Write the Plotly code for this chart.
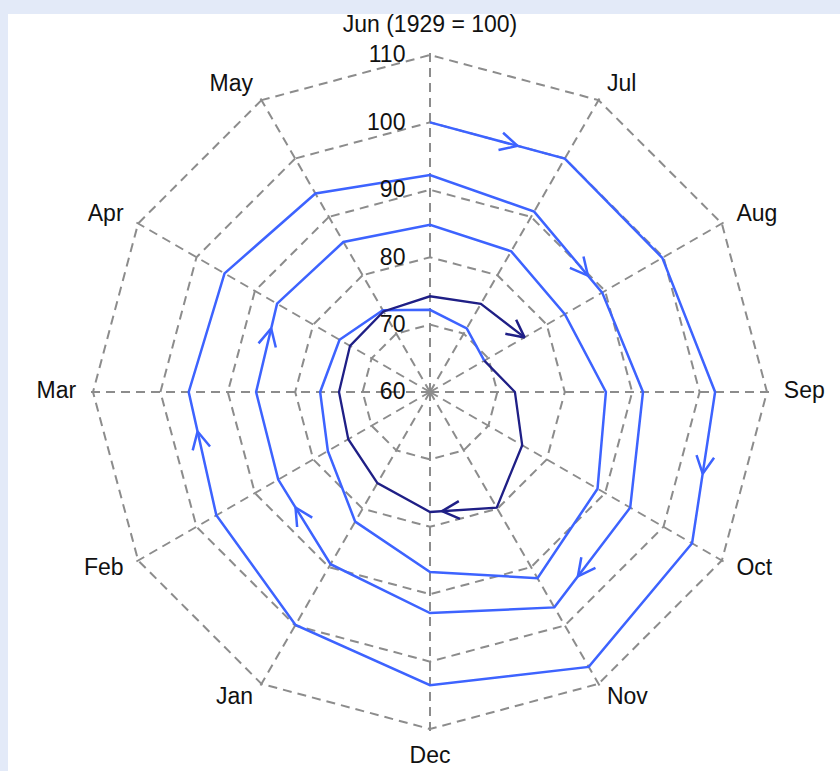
import math

import plotly.graph_objects as go


MONTHS = ["Jun (1929 = 100)", "Jul", "Aug", "Sep", "Oct", "Nov", "Dec", "Jan", "Feb", "Mar", "Apr", "May"]
RADIAL_TICKS = [60, 70, 80, 90, 100, 110]

# Jun 1929 .. Aug 1932, one value per month
early_values = [
    100.0, 100.0, 99.8, 102.3, 104.9, 107.1, 103.5, 99.9, 96.6, 95.8, 95.2, 94.0,
    92.2, 90.9, 89.5, 91.6, 94.3, 96.9, 92.8, 89.5, 86.0, 85.8, 86.2, 85.7,
    84.8, 84.1, 83.1, 86.1, 88.7, 91.9, 86.7, 82.2, 77.5, 76.3, 75.5, 74.0,
    72.2, 70.9, 69.3,
]
early_start = 0  # Jun

# Aug 1932 .. Aug 1933
late_values = [69.3, 72.6, 75.8, 79.8, 77.8, 75.6, 74.0, 73.5, 73.7, 73.8, 74.2, 75.1, 76.2]
late_start = 2  # Aug

# (segment index, fraction along the segment) where the arrowheads sit
early_arrows = [(0, 0.65), (3, 0.54), (8, 0.68), (13, 0.79), (16, 0.69), (19, 0.67), (21, 0.72)]
late_arrows = [(3, 0.82), (11, 1.0)]

LIGHT = "#3d63ff"
DARK = "#1f1f86"
GRID = "#8c8c8c"
TEXT = "#111111"
FONT_SIZE = 23
W, H = 840, 771
CENTER = (430, 392)  # px from top-left
PX_PER_UNIT = 6.74
R_MIN = 60
R_MAX = 110.35  # a touch past 110 so the outer ring is still drawn
LABEL_R = 112.5


def domain(r_max):
    half = (r_max - R_MIN) * PX_PER_UNIT
    cx, cy = CENTER[0], H - CENTER[1]
    return {"x": [(cx - half) / W, (cx + half) / W], "y": [(cy - half) / H, (cy + half) / H]}


def month_index(start, n):
    return [(start + i) % 12 for i in range(n)]


def label_position(i):
    if i == 0:
        return "top center"
    if i == 6:
        return "bottom center"
    return "middle right" if i < 6 else "middle left"


def to_xy(r, t):
    a = math.radians(90 - t)
    return (r - R_MIN) * math.cos(a), (r - R_MIN) * math.sin(a)


def to_rt(x, y):
    return R_MIN + math.hypot(x, y), (90 - math.degrees(math.atan2(y, x))) % 360


def arrow_heads(values, months, arrows, size=2.9, spread=27):
    rs, ts = [], []
    for i, f in arrows:
        ax, ay = to_xy(values[i], 30 * months[i])
        bx, by = to_xy(values[i + 1], 30 * months[i + 1])
        px, py = ax + f * (bx - ax), ay + f * (by - ay)
        ln = math.hypot(bx - ax, by - ay)
        ux, uy = (bx - ax) / ln, (by - ay) / ln
        pts = []
        for s in (spread, -spread):
            c, sn = math.cos(math.radians(s)), math.sin(math.radians(s))
            rx, ry = ux * c - uy * sn, ux * sn + uy * c
            pts.append((px - size * rx, py - size * ry))
        for x, y in (pts[0], (px, py), pts[1]):
            r, t = to_rt(x, y)
            rs.append(r)
            ts.append(t)
        rs.append(None)
        ts.append(None)
    return rs, ts


early_months = month_index(early_start, len(early_values))
late_months = month_index(late_start, len(late_values))

fig = go.Figure()
fig.add_trace(
    go.Scatterpolar(
        r=early_values,
        theta=[MONTHS[m] for m in early_months],
        mode="lines",
        line={"color": LIGHT, "width": 2.5},
        hoverinfo="skip",
    )
)
fig.add_trace(
    go.Scatterpolar(
        r=late_values,
        theta=[MONTHS[m] for m in late_months],
        mode="lines",
        line={"color": DARK, "width": 2.3},
        hoverinfo="skip",
    )
)

# second, numeric polar laid over the first with the same scale:
# arrowheads and month names
for values, months, arrows, color in (
    (early_values, early_months, early_arrows, LIGHT),
    (late_values, late_months, late_arrows, DARK),
):
    ar, at = arrow_heads(values, months, arrows)
    fig.add_trace(
        go.Scatterpolar(
            r=ar,
            theta=at,
            mode="lines",
            line={"color": color, "width": 2.5},
            hoverinfo="skip",
            subplot="polar2",
        )
    )
fig.add_trace(
    go.Scatterpolar(
        r=[LABEL_R] * len(MONTHS),
        theta=[30 * i for i in range(len(MONTHS))],
        mode="text",
        text=MONTHS,
        textposition=[label_position(i) for i in range(len(MONTHS))],
        textfont={"size": FONT_SIZE, "color": TEXT},
        cliponaxis=False,
        hoverinfo="skip",
        subplot="polar2",
    )
)

fig.update_layout(
    template="none",
    width=W,
    height=H,
    showlegend=False,
    paper_bgcolor="#e3eaf8",
    margin={"l": 0, "r": 0, "t": 0, "b": 0},
    font={"family": "Arial, Liberation Sans, sans-serif", "size": FONT_SIZE, "color": TEXT},
    shapes=[
        {
            "type": "rect",
            "xref": "paper",
            "yref": "paper",
            "x0": 8 / W,
            "x1": 1,
            "y0": 0,
            "y1": (H - 14) / H,
            "fillcolor": "white",
            "line": {"width": 0},
            "layer": "below",
        }
    ],
    polar={
        "domain": domain(R_MAX),
        "bgcolor": "rgba(0,0,0,0)",
        "gridshape": "linear",
        "radialaxis": {
            "range": [R_MIN, R_MAX],
            "tickvals": RADIAL_TICKS,
            "angle": 90,
            "side": "counterclockwise",
            "tickangle": 90,
            "showline": False,
            "ticks": "outside",
            "ticklen": 16,
            "tickcolor": "rgba(0,0,0,0)",
            "gridcolor": GRID,
            "griddash": "9px,6px",
            "gridwidth": 1.5,
        },
        "angularaxis": {
            "type": "category",
            "categoryorder": "array",
            "categoryarray": MONTHS,
            "rotation": 90,
            "direction": "clockwise",
            "showline": False,
            "showticklabels": False,
            "ticks": "",
            "gridcolor": GRID,
            "griddash": "9px,6px",
            "gridwidth": 1.5,
        },
    },
    polar2={
        "domain": domain(LABEL_R),
        "bgcolor": "rgba(0,0,0,0)",
        "radialaxis": {"range": [R_MIN, LABEL_R], "visible": False},
        "angularaxis": {"rotation": 90, "direction": "clockwise", "visible": False},
    },
)

fig.write_html(
    "out.html",
    config={"displayModeBar": False},
    post_script="document.body.style.margin = '0';",
)
